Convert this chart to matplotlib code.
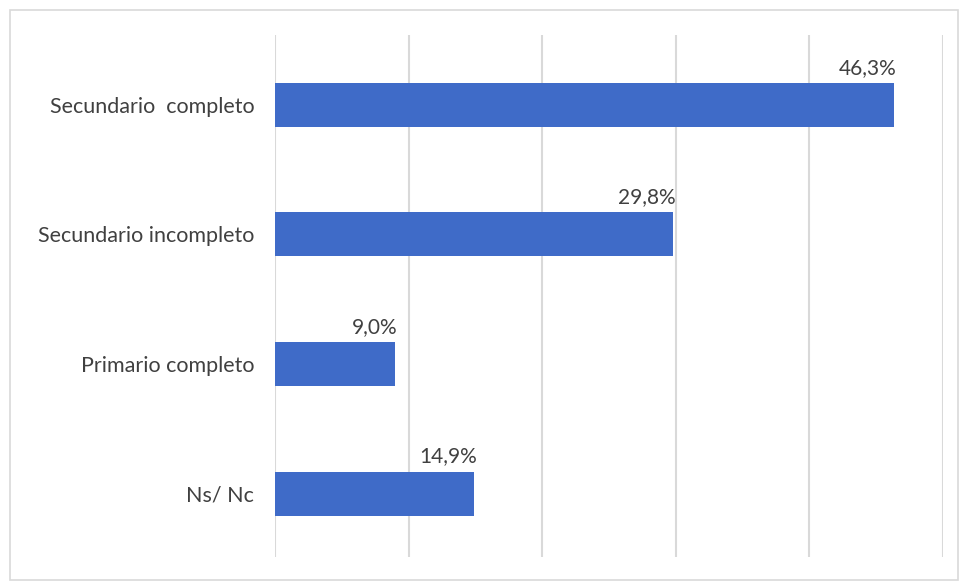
import matplotlib
matplotlib.use("Agg")
import matplotlib.pyplot as plt
from matplotlib.patches import Rectangle

categories = ["Secundario  completo", "Secundario incompleto", "Primario completo", "Ns/ Nc"]
values = [46.3, 29.8, 9.0, 14.9]
labels = ["46,3%", "29,8%", "9,0%", "14,9%"]

plt.rcParams['font.family'] = ['Lato', 'DejaVu Sans']

fig = plt.figure(figsize=(9.59, 5.81), dpi=100)
fig.patch.set_facecolor('white')
fig.add_artist(Rectangle((10/959, 0.002), 948/959, 1 - 10/581 - 0.002, transform=fig.transFigure,
                         fill=False, edgecolor='#d9d9d9', linewidth=1.2))

ax = fig.add_axes([275/959, 1 - 557/581, (943 - 275)/959, (557 - 35)/581])
y = list(range(len(categories)))
ax.barh(y, values, height=0.34, color='#3F6BC8', zorder=3)
ax.set_xlim(0, 50)
ax.set_ylim(3.49, -0.54)
ax.set_xticks([0, 10, 20, 30, 40, 50])
ax.set_xticklabels([])
ax.tick_params(axis='x', length=0)
ax.tick_params(axis='y', length=0, pad=15, labelsize=15.5, labelcolor='#404040')
ax.set_yticks(y)
ax.set_yticklabels(categories)
ax.grid(axis='x', color='#d9d9d9', linewidth=1.5, zorder=0)
for s in ax.spines.values():
    s.set_visible(False)

for yi, v, lab in zip(y, values, labels):
    ax.text(v + 0.2, yi - 0.21, lab, ha='right', va='bottom', fontsize=15, color='#404040', zorder=4)

fig.savefig("out.png", dpi=100)
